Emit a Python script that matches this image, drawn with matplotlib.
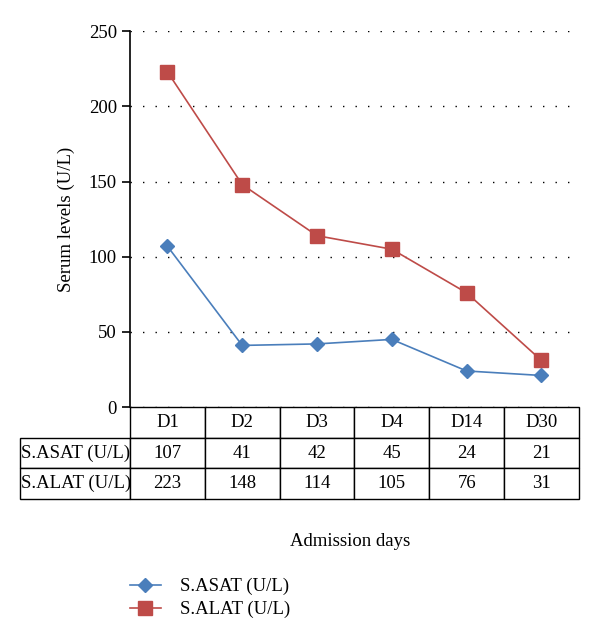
import matplotlib.pyplot as plt

days = ['D1', 'D2', 'D3', 'D4', 'D14', 'D30']
asat = [107, 41, 42, 45, 24, 21]
alat = [223, 148, 114, 105, 76, 31]
series_names = ['S.ASAT (U/L)', 'S.ALAT (U/L)']

plt.rcParams['font.family'] = ['Liberation Serif', 'DejaVu Serif']
fs = 13.5

fig = plt.figure(figsize=(6, 6.38), dpi=100)
ax = fig.add_axes([0.2167, 0.362, 0.748, 0.589])

x = [i + 0.5 for i in range(len(days))]
l1, = ax.plot(x, asat, color='#4a7ebb', marker='D', markersize=7.5, linewidth=1.2,
              markeredgecolor='#4a7ebb', label=series_names[0])
l2, = ax.plot(x, alat, color='#be4b48', marker='s', markersize=9.5, linewidth=1.2,
              markeredgecolor='#be4b48', label=series_names[1])

ax.set_xlim(0, 6)
ax.set_ylim(0, 250)
ax.set_yticks([0, 50, 100, 150, 200, 250])
ax.set_xticks([])
ax.grid(axis='y', linestyle=(0, (1, 8)), color='black', linewidth=1.0)
for s in ['top', 'right', 'bottom']:
    ax.spines[s].set_visible(False)
ax.spines['left'].set_linewidth(1.2)
ax.tick_params(axis='y', length=6, width=1.2, labelsize=fs)
ax.set_ylabel('Serum levels (U/L)', fontsize=fs, labelpad=10)

# table under the plot (row labels added by hand so their width stays fixed)
cell_text = [[str(v) for v in asat], [str(v) for v in alat]]
lab_w = 110 / 449
tbl = ax.table(cellText=cell_text, colLabels=days, cellLoc='center',
               colWidths=[1 / 6] * 6, bbox=[0, -0.2447, 1, 0.2447])
for r, name in enumerate(series_names, start=1):
    tbl.add_cell(r, -1, width=lab_w, height=tbl[r, 0].get_height(),
                 text=name, loc='left')
tbl.auto_set_font_size(False)
tbl.set_fontsize(fs)
for (r, c), cell in tbl.get_celld().items():
    cell.set_linewidth(1.0)
    if c == -1:
        cell.PAD = 0.01

fig.text(0.583, 0.1505, 'Admission days', ha='center', va='center', fontsize=fs)

fig.legend(handles=[l1, l2], loc='upper left', bbox_to_anchor=(0.2167, 0.094),
           frameon=False, fontsize=fs, handlelength=1.65, labelspacing=0.3,
           handletextpad=1.0, borderaxespad=0, borderpad=0)

fig.savefig('out.png', dpi=100)
